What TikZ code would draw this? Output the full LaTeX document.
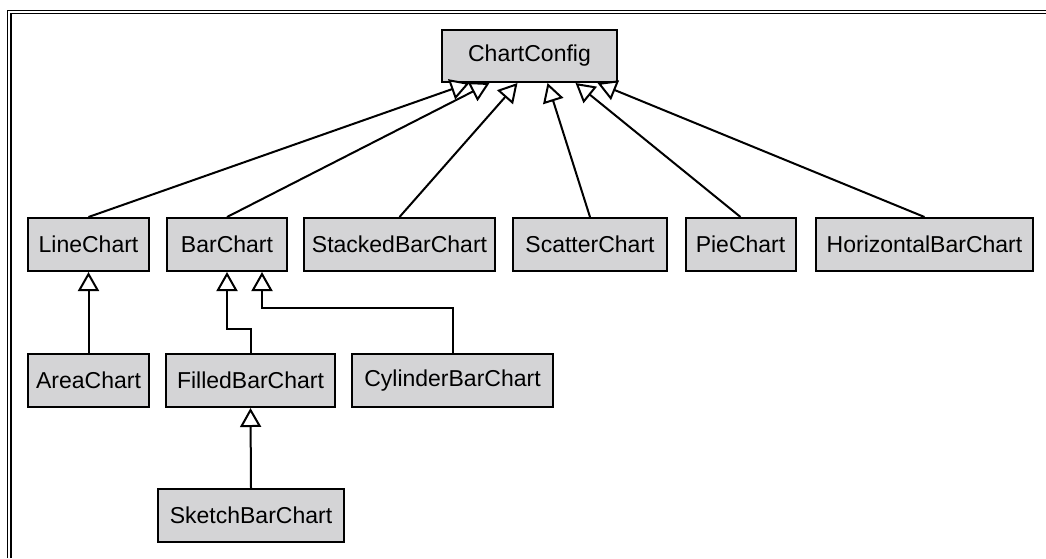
\documentclass[tikz,border=0pt]{standalone}
\usepackage{fontspec}
\setmainfont{Liberation Sans}
\usetikzlibrary{arrows.meta,positioning,shapes}
\definecolor{boxgray}{RGB}{212,212,214}

\begin{document}
\begin{tikzpicture}[x=1pt,y=-1pt,line width=2pt,
    font=\fontsize{23}{26}\selectfont,
    cls/.style={rectangle,draw,fill=boxgray,minimum height=53pt,inner sep=0pt},
    inherit/.style={-{Triangle[open,fill=white,length=19pt,width=21pt]},line width=2pt}]

  \useasboundingbox (0,0) rectangle (1046,558);

  % frame
  \draw[line width=1.5pt] (7.5,558) -- (7.5,10.5) -- (1046,10.5);
  \draw[line width=1.5pt] (11,558) -- (11,13.5) -- (1046,13.5);

  % base class
  \node[cls, minimum width=175pt, minimum height=52pt] (config) at (529.5,56) {ChartConfig};

  % chart types
  \node[cls, minimum width=121pt] (line)    at (88.5,244.5)  {LineChart};
  \node[cls, minimum width=120pt] (bar)     at (227,244.5)   {BarChart};
  \node[cls, minimum width=191pt] (stacked) at (399.5,244.5) {StackedBarChart};
  \node[cls, minimum width=154pt] (scatter) at (590,244.5)   {ScatterChart};
  \node[cls, minimum width=110pt] (pie)     at (740.5,244.5) {PieChart};
  \node[cls, minimum width=217pt] (horiz)   at (924.5,244.5) {HorizontalBarChart};

  \node[cls, minimum width=121pt] (area)     at (88.5,380.5)  {AreaChart};
  \node[cls, minimum width=169pt] (filled)   at (250.5,380.5) {FilledBarChart};
  \node[cls, minimum width=201pt] (cylinder) at (452.5,380.5) {CylinderBarChart};

  \node[cls, minimum width=186pt] (sketch) at (251,515.5) {SketchBarChart};

  % inheritance
  \draw[inherit] (line.north)    -- ([xshift=-60pt]config.south);
  \draw[inherit] (bar.north)     -- ([xshift=-40pt]config.south);
  \draw[inherit] (stacked.north) -- ([xshift=-12pt]config.south);
  \draw[inherit] (scatter.north) -- ([xshift=18pt]config.south);
  \draw[inherit] (pie.north)     -- ([xshift=46pt]config.south);
  \draw[inherit] (horiz.north)   -- ([xshift=68pt]config.south);

  \draw[inherit] (area.north) -- (line.south);
  \draw[inherit] (filled.north) -- ++(0,-24) -| (bar.south);
  \draw[inherit] (cylinder.north) -- ++(0,-45) -| ([xshift=35pt]bar.south);
  \draw[inherit] (sketch.north) -- (filled.south);
\end{tikzpicture}
\end{document}
